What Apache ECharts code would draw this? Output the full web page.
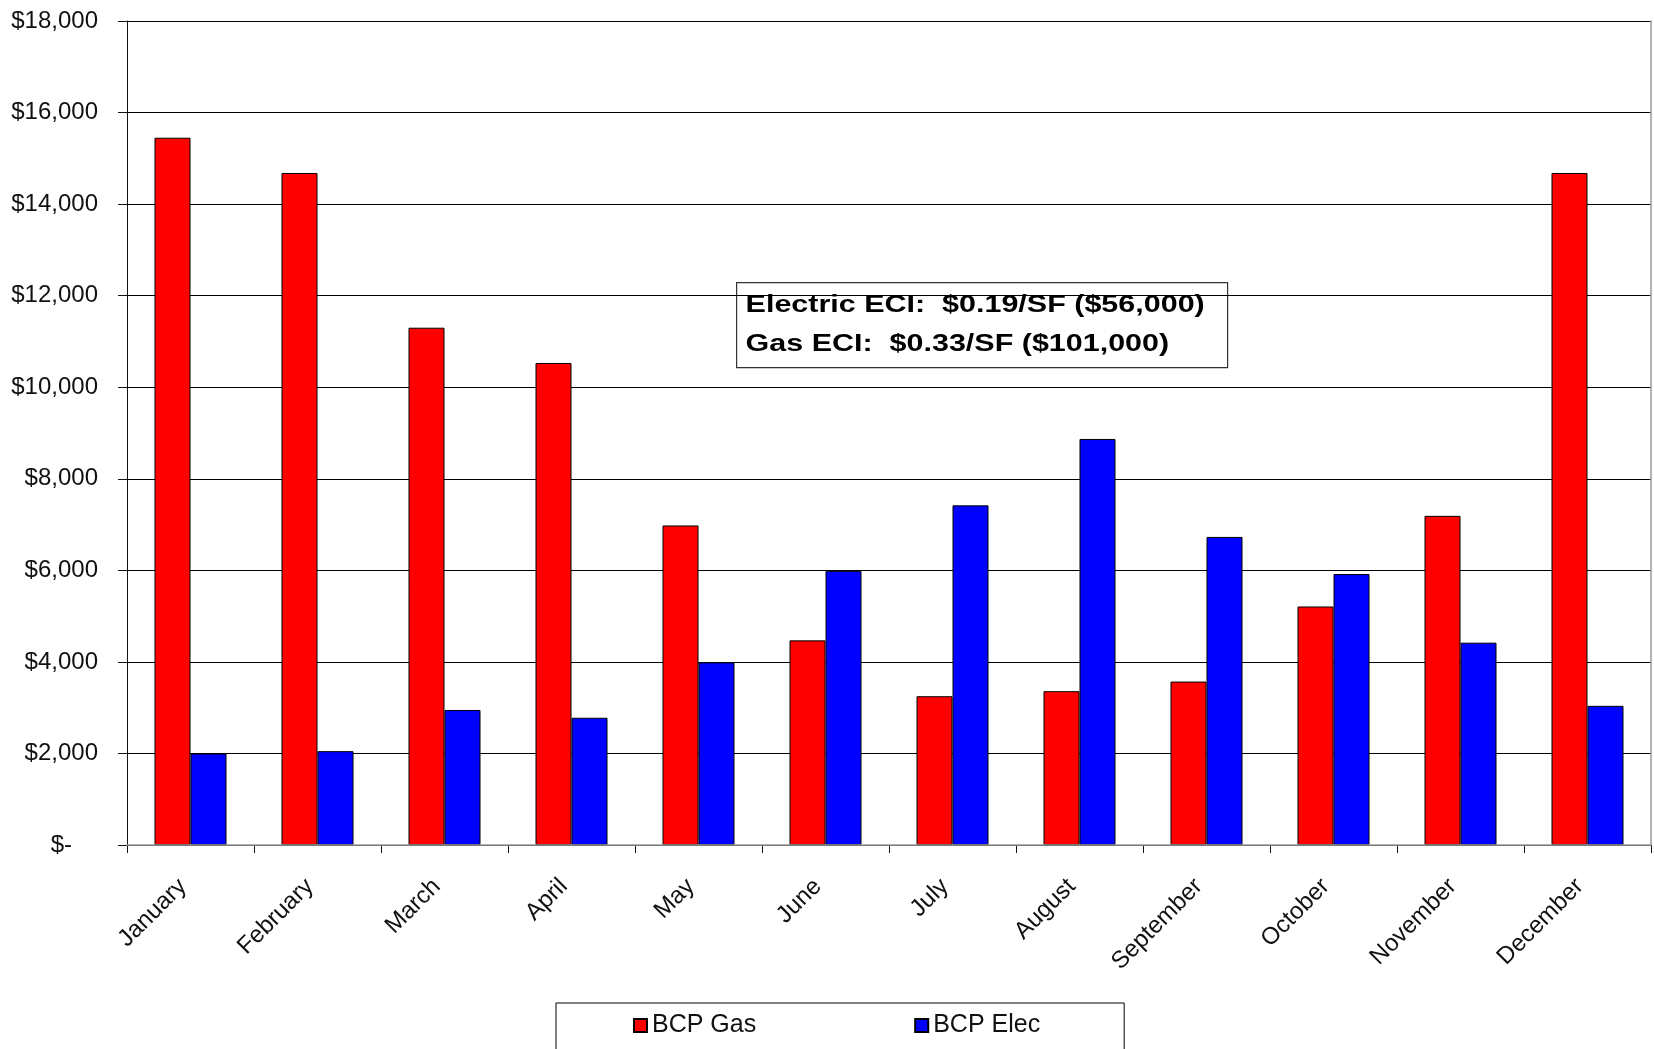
<!DOCTYPE html>
<html>
<head>
<meta charset="utf-8">
<title>BCP Monthly Utility Cost</title>
<script src="https://cdn.jsdelivr.net/npm/echarts@6/dist/echarts.min.js"></script>
<style>
  html, body { margin: 0; padding: 0; background: #fff; }
  #chart { width: 1654px; height: 1049px; }
</style>
</head>
<body>
<div id="chart"></div>
<script>
// Monthly utility cost for BCP, gas vs. electric
const months = ['January', 'February', 'March', 'April', 'May', 'June',
                'July', 'August', 'September', 'October', 'November', 'December'];
const gasCost  = [15450, 14680, 11300, 10530, 6980, 4470, 3250, 3360, 3570, 5210, 7190, 14680];
const elecCost = [2000, 2050, 2950, 2780, 3990, 5990, 7420, 8870, 6730, 5920, 4420, 3040];
const seriesNames = ['BCP Gas', 'BCP Elec'];
const yMin = 0, yMax = 18000, yStep = 2000;
const summaryLines = ['Electric ECI:  $0.19/SF ($56,000)', 'Gas ECI:  $0.33/SF ($101,000)'];

const FONT = "'Liberation Sans', Arial, sans-serif";

function money(v) {
  if (v === 0) return '{z|$-}';
  return '$' + v.toLocaleString('en-US');
}

const chart = echarts.init(document.getElementById('chart'), null, { renderer: 'canvas' });

chart.setOption({
  animation: false,
  backgroundColor: '#ffffff',
  textStyle: { fontFamily: FONT },
  grid: { left: 127, right: 3, top: 21, bottom: 204, containLabel: false },
  legend: {
    data: seriesNames,
    left: 556, top: 1003,
    orient: 'horizontal',
    icon: 'rect',
    itemWidth: 13, itemHeight: 13,
    itemGap: 158,
    borderColor: '#000', borderWidth: 1,
    padding: [10, 84, 40, 77],
    textStyle: { fontFamily: FONT, fontSize: 25, color: '#111' }
  },
  xAxis: [{
    type: 'category',
    data: months,
    boundaryGap: true,
    axisLine: { lineStyle: { color: '#111', width: 1 } },
    axisTick: { show: true, length: 8, alignWithLabel: false, lineStyle: { color: '#111' } },
    axisLabel: {
      rotate: 45, margin: 30, fontSize: 24, color: '#111', fontFamily: FONT, interval: 0,
      padding: [0, 11, 0, 0]
    },
    splitLine: { show: false }
  }, {
    // top frame line of the plot area
    type: 'category', position: 'top', data: months, z: 5,
    axisLine: { lineStyle: { color: '#9a9a9a', width: 1.5 } },
    axisTick: { show: false }, axisLabel: { show: false }
  }],
  yAxis: [{
    type: 'value',
    min: yMin, max: yMax, interval: yStep,
    axisLine: { show: true, lineStyle: { color: '#111', width: 1 } },
    axisTick: { show: true, length: 9, lineStyle: { color: '#111' } },
    axisLabel: {
      margin: 29, fontSize: 24, color: '#111', fontFamily: FONT,
      formatter: money,
      rich: { z: { fontSize: 24, color: '#111', fontFamily: FONT, padding: [0, 26, 0, 0] } }
    },
    splitLine: { show: true, lineStyle: { color: '#000', width: 1.2 } }
  }, {
    // right frame line of the plot area
    type: 'value', position: 'right', min: yMin, max: yMax, interval: yStep, z: 5,
    axisLine: { show: true, lineStyle: { color: '#9a9a9a', width: 1.5 } },
    axisTick: { show: false }, axisLabel: { show: false }, splitLine: { show: false }
  }],
  series: [{
    name: seriesNames[0],
    type: 'bar',
    data: gasCost,
    barWidth: 36,
    barGap: '0%',
    itemStyle: { color: '#ff0000', borderColor: '#000', borderWidth: 1 }
  }, {
    name: seriesNames[1],
    type: 'bar',
    data: elecCost,
    barWidth: 36,
    barGap: '0%',
    itemStyle: { color: '#0000ff', borderColor: '#000', borderWidth: 1 }
  }],
  graphic: [{
    // ECI summary box
    type: 'group',
    left: 736, top: 282, z: 10,
    children: [{
      type: 'rect',
      shape: { x: 0, y: 0, width: 491, height: 85 },
      style: { fill: '#fff', stroke: '#333', lineWidth: 1.2 }
    }, {
      type: 'text',
      x: 9, y: 3,
      scaleX: 1.27,
      style: {
        text: summaryLines.join('\n'),
        font: 'bold 24px ' + FONT,
        fill: '#000',
        lineHeight: 39
      }
    }]
  }]
});
</script>
</body>
</html>
